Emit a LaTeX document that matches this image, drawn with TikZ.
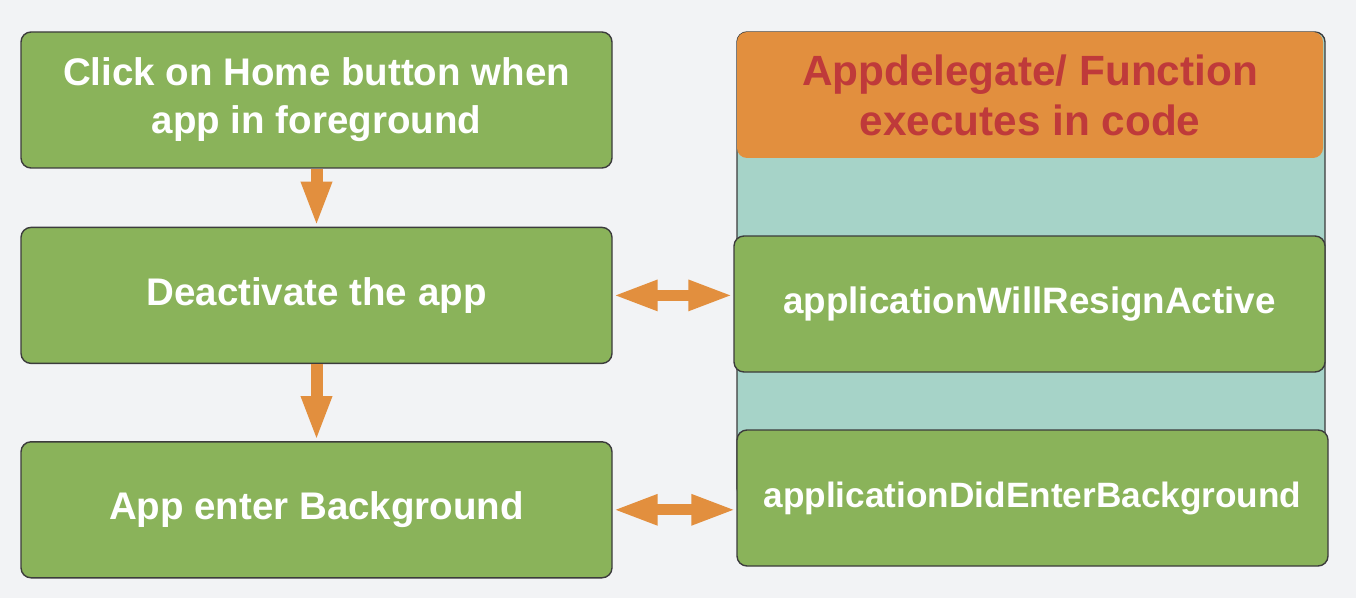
\documentclass[tikz,border=0pt]{standalone}
\usepackage{fontspec}
\setmainfont{Liberation Sans}
\usepackage{tikz}
\usetikzlibrary{arrows.meta, positioning, calc}
\definecolor{verdeCaja}{HTML}{8AB35A}
\definecolor{naranjaFlecha}{HTML}{E28F3E}
\definecolor{tealPanel}{HTML}{A6D3C8}
\definecolor{fondoGris}{HTML}{F2F3F5}
\definecolor{bordeOscuro}{HTML}{3C3C3C}
\definecolor{rojoTitulo}{HTML}{BF3A3A}

\begin{document}
\begin{tikzpicture}[x=1pt, y=1pt,
        paso/.style={draw=bordeOscuro, fill=verdeCaja, line width=1.4pt, rounded corners=10pt,
            minimum width=591pt, minimum height=136pt, inner sep=0pt, align=center,
            text=white, font=\bfseries\fontsize{38.5}{48}\selectfont},
        flecha/.style={-{Triangle[length=45pt, width=28pt]}, naranjaFlecha, line width=12pt},
        doble/.style={{Triangle[length=45pt, width=28pt]}-{Triangle[length=45pt, width=28pt]},
            naranjaFlecha, line width=11pt}
    ]
        \fill[fondoGris] (0,0) rectangle (1356,598);
        \useasboundingbox (0,0) rectangle (1356,598);

        % panel de la derecha
        \draw[bordeOscuro, fill=tealPanel, line width=1.4pt, rounded corners=10pt]
            (737,100) rectangle (1325,566);
        \node[fill=naranjaFlecha, rounded corners=10pt, minimum width=586pt, minimum height=126pt,
            inner sep=0pt, align=center, text=rojoTitulo,
            font=\bfseries\fontsize{42.3}{50}\selectfont] (titulo) at (1030,503)
            {Appdelegate/ Function\\executes in code};

        \node[paso] (click) at (316.5,498) {Click on Home button when\\app in foreground};
        \node[paso, below=58pt of click] (deact) {Deactivate the app};
        \node[paso, below=77pt of deact] (fondo) {App enter Background};

        \node[paso, font=\bfseries\fontsize{36.8}{46}\selectfont] (resign) at (1029.5,294)
            {applicationWillResignActive};
        \node[paso, font=\bfseries\fontsize{35.2}{44}\selectfont] (enterbg) at (1032.5,100)
            {applicationDidEnterBackground};

        \draw[flecha] (click) -- (deact);
        \draw[flecha] (deact) -- (fondo);
        \draw[doble] (deact.east) -- (deact.east -| resign.west);
        \draw[doble] (fondo.east) -- (fondo.east -| enterbg.west);
    \end{tikzpicture}
\end{document}
